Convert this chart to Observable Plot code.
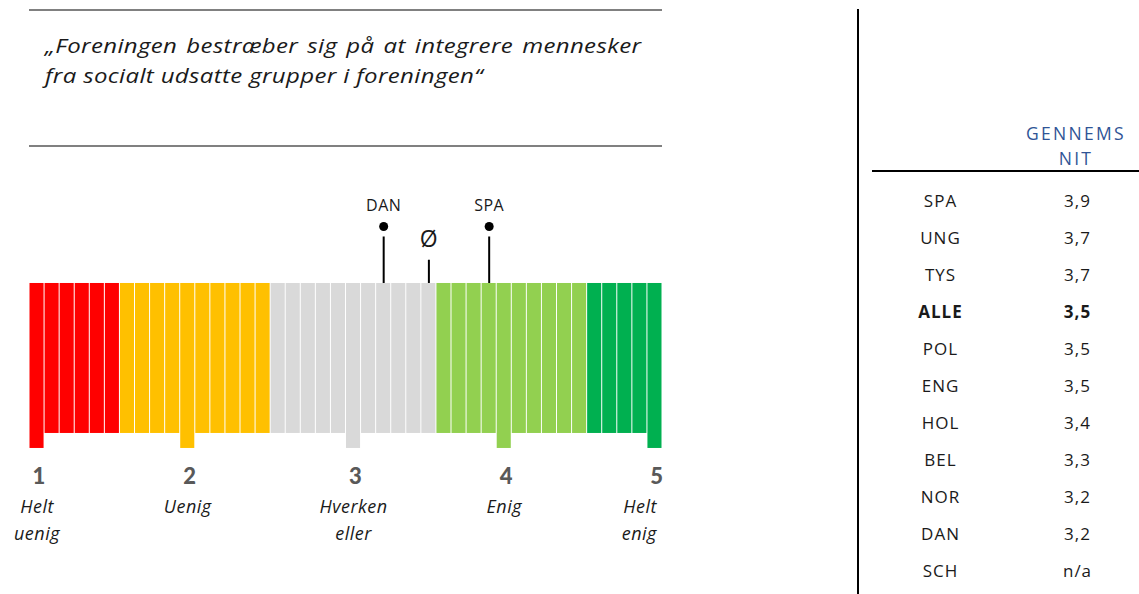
<!DOCTYPE html>
<html><head><meta charset="utf-8">
<script src="https://cdn.jsdelivr.net/npm/d3@7"></script>
<script src="https://cdn.jsdelivr.net/npm/@observablehq/plot@0.6"></script>
<style>
body{margin:0;background:#fff;}
#page{position:relative;width:1139px;height:594px;overflow:hidden;font-family:"Open Sans",Lato,sans-serif;color:#1a1a1a;}
.grule{position:absolute;background:#808080;height:2px;left:29px;width:633px;}
#title{position:absolute;left:45px;top:31px;font-style:italic;font-size:20px;line-height:30px;letter-spacing:0.3px;transform:scaleX(1.2);transform-origin:0 0;}
#title .l1{width:497px;text-align:justify;text-align-last:justify;white-space:nowrap;}
#vline{position:absolute;left:857px;top:9px;width:2px;height:585px;background:#000;}
#hline{position:absolute;left:872px;top:170px;width:267px;height:2px;background:#000;}
#left{position:absolute;left:0;top:160px;}
#right{position:absolute;left:858px;top:0;}
svg{overflow:visible;}
</style></head>
<body>
<div id="page">
  <div class="grule" style="top:9px"></div>
  <div id="title"><div class="l1">„Foreningen bestræber sig på at integrere mennesker</div><div>fra socialt udsatte grupper i foreningen“</div></div>
  <div class="grule" style="top:145px"></div>
  <div id="left"></div>
  <div id="vline"></div>
  <div id="hline"></div>
  <div id="right"></div>
</div>
<script>
// ---- data ----
const groupColors = ["#FF0000", "#FFC000", "#D9D9D9", "#92D050", "#00B050"];
const groupBarCounts = [6, 10, 11, 10, 5];
const scalePoints = [1, 2, 3, 4, 5];
const scaleLabels = ["Helt\nuenig", "Uenig", "Hverken\neller", "Enig", "Helt\nenig"];
const scaleBarIndex = [0, 10, 21, 31, 41];
const markerLabels = ["DAN", "Ø", "SPA"];
const markerValues = [3.2, 3.5, 3.9];
const tableCountries = ["SPA", "UNG", "TYS", "ALLE", "POL", "ENG", "HOL", "BEL", "NOR", "DAN", "SCH"];
const tableValues = [3.9, 3.7, 3.7, 3.5, 3.5, 3.5, 3.4, 3.3, 3.2, 3.2, null];
const tableHeader = "GENNEMS\nNIT";
const boldRow = "ALLE";

// ---- build bars ----
const bars = [];
groupBarCounts.forEach((n, g) => {
  for (let k = 0; k < n; k++) {
    const i = bars.length;
    bars.push({i, color: groupColors[g], tall: scaleBarIndex.includes(i)});
  }
});
// value (1..5) -> bar index position
function valueToIndex(v) {
  let s = Math.min(Math.floor(v), 4);
  const a = scaleBarIndex[s - 1], b = scaleBarIndex[s];
  return a + (v - s) * (b - a);
}
const markers = markerLabels.map((label, j) => ({label, value: markerValues[j], x: valueToIndex(markerValues[j]), avg: label === "Ø"}));
const ticks = scalePoints.map((p, j) => ({p, label: scaleLabels[j], x: scaleBarIndex[j], last: j === scalePoints.length - 1}));

const BAR_TOP = 10, BAR_BOTTOM = 0, TALL_BOTTOM = -1;
const lbl = {lineAnchor: "top", lineHeight: 1.45, fontSize: 18, fontStyle: "italic", fill: "#1a1a1a"};

const left = Plot.plot({
  width: 700, height: 400,
  marginLeft: 29, marginRight: 38, marginTop: 0, marginBottom: 0,
  x: {domain: [-0.5, 41.5], axis: null},
  y: {domain: [-8.47, 18.2], axis: null},
  style: {fontFamily: "'Open Sans', Lato, sans-serif", background: "transparent", letterSpacing: "0.5px"},
  marks: [
    Plot.rect(bars, {x1: d => d.i - 0.5, x2: d => d.i + 0.5, y1: d => d.tall ? TALL_BOTTOM : BAR_BOTTOM, y2: BAR_TOP, fill: d => d.color, insetLeft: 0.5, insetRight: 0.5}),
    // marker stems
    Plot.ruleX(markers, {x: "x", y1: BAR_TOP, y2: d => d.avg ? 11.55 : 13.1, stroke: "#000", strokeWidth: 2}),
    Plot.dot(markers.filter(d => !d.avg), {x: "x", y: 13.8, r: 4.5, fill: "#000", stroke: null}),
    Plot.text(markers.filter(d => !d.avg), {x: "x", y: 15.2, text: "label", fontSize: 16, fill: "#1a1a1a"}),
    Plot.text(markers.filter(d => d.avg), {x: "x", y: 12.9, text: "label", fontSize: 23, fill: "#1a1a1a"}),
    // scale numbers
    Plot.text(ticks, {x: "x", y: -2.93, text: d => String(d.p), fontSize: 22, fontWeight: 900, fill: "#595959", dx: 2, fontFamily: "Lato, sans-serif"}),
    // scale labels
    Plot.text(ticks.filter(d => !d.last), {x: "x", y: -4.1, text: "label", ...lbl}),
    Plot.text(ticks.filter(d => d.last), {x: "x", y: -4.1, text: "label", ...lbl, textAnchor: "end", dx: 2})
  ]
});
document.getElementById("left").appendChild(left);

// ---- table ----
const fmt = v => v == null ? "n/a" : v.toFixed(1).replace(".", ",");
const rows = tableCountries.map((c, j) => ({c, v: fmt(tableValues[j]), bold: c === boldRow}));
const tstyle = {fontSize: 17, fill: "#1a1a1a"};
const right = Plot.plot({
  width: 281, height: 594,
  marginLeft: 82, marginRight: 62, marginTop: 196, marginBottom: 19,
  x: {type: "point", domain: ["c", "v"], padding: 0, axis: null},
  y: {type: "point", domain: tableCountries, padding: 0, axis: null},
  style: {fontFamily: "'Open Sans', Lato, sans-serif", background: "transparent", letterSpacing: "1px"},
  marks: [
    Plot.text(rows.filter(d => !d.bold), {x: () => "c", y: "c", text: "c", ...tstyle}),
    Plot.text(rows.filter(d => !d.bold), {x: () => "v", y: "c", text: "v", ...tstyle}),
    Plot.text(rows.filter(d => d.bold), {x: () => "c", y: "c", text: "c", ...tstyle, fontWeight: "bold"}),
    Plot.text(rows.filter(d => d.bold), {x: () => "v", y: "c", text: "v", ...tstyle, fontWeight: "bold"}),
    Plot.text([tableHeader], {x: () => "v", frameAnchor: "top", dy: -52, text: d => d, lineAnchor: "middle", lineHeight: 1.45, fontSize: 17.5, fill: "#2F5496", dx: -1.5})
  ]
});
// wide tracking for the header only
d3.select(right).selectAll("g[aria-label='text']").filter((d, i, n) => i === n.length - 1).style("letter-spacing", "2.3px");
document.getElementById("right").appendChild(right);
</script>
</body></html>
